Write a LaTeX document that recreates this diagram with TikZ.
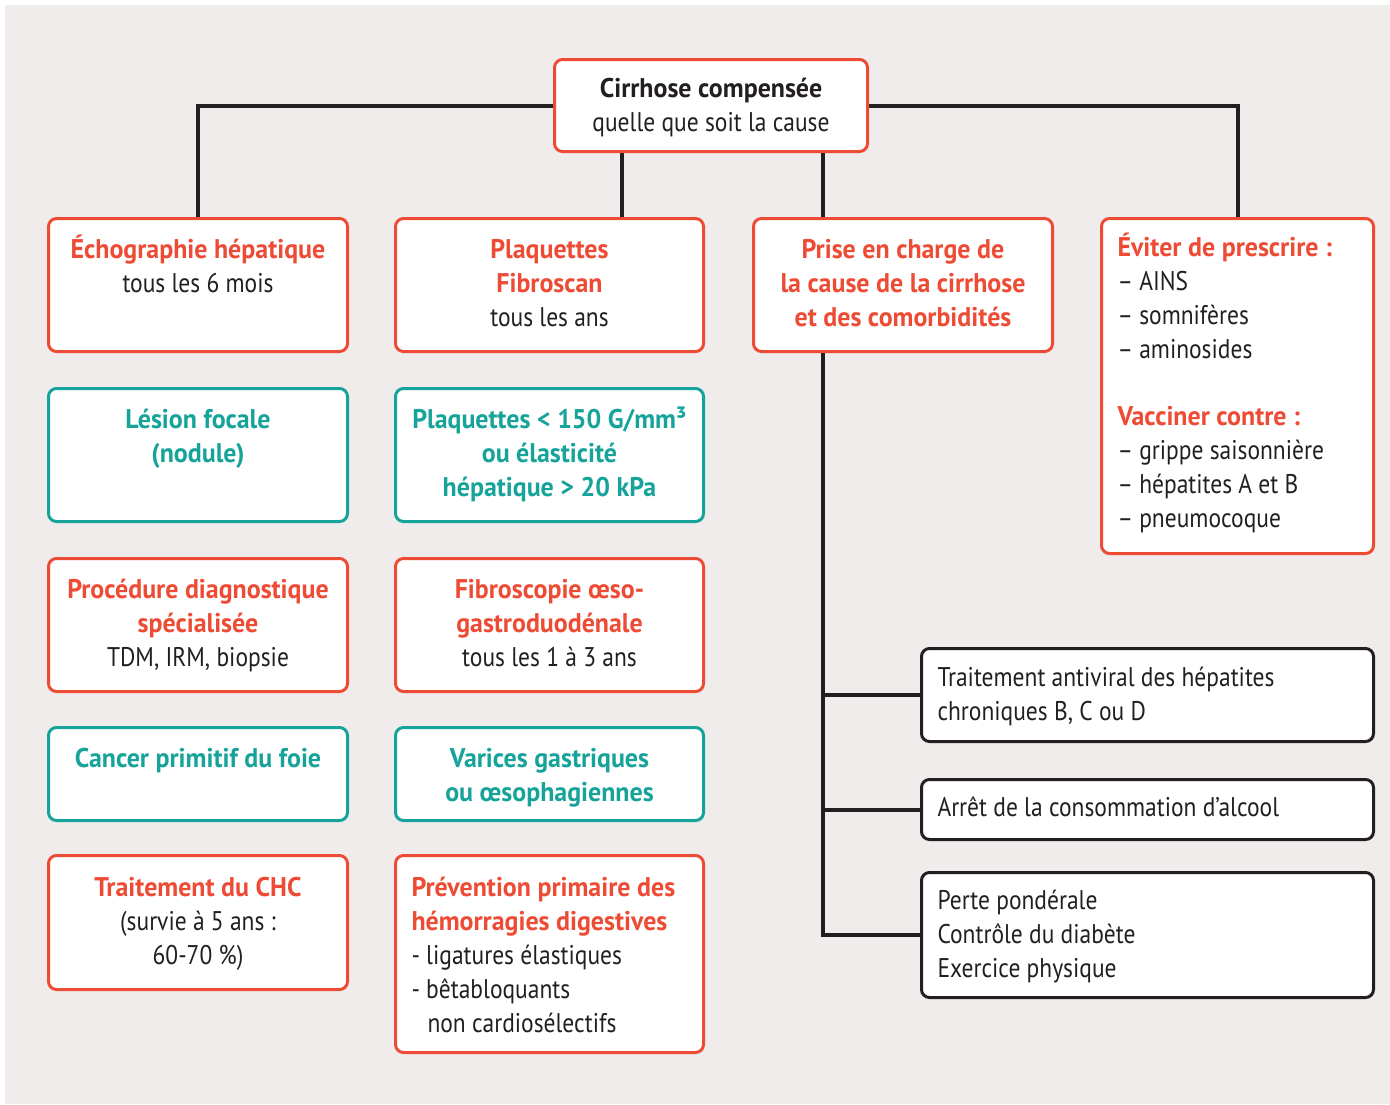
\documentclass[tikz,border=0pt]{standalone}
\usepackage{fontspec}
\setmainfont{PT Sans}[FakeStretch=0.87, BoldFeatures={FakeStretch=0.96}]
\usetikzlibrary{backgrounds}
\definecolor{myred}{HTML}{EE4B35}
\definecolor{myteal}{HTML}{16A39A}
\definecolor{panel}{HTML}{F0ECEC}
\definecolor{ink}{HTML}{231F20}
\newcommand\cbox[4]{\parbox[c][#2pt][t]{#1pt}{\centering\rule{0pt}{#3pt}#4}}
\newcommand\lbox[4]{\parbox[c][#2pt][t]{#1pt}{\raggedright\leftskip=16pt\rule{0pt}{#3pt}#4}}
\newcommand\rt[1]{{\color{myred}\bfseries #1}}
\newcommand\tl[1]{{\color{myteal}\bfseries #1}}
\tikzset{
  box/.style={draw, line width=3pt, rounded corners=8pt, fill=white, inner sep=0pt, anchor=north west, text=ink, font=\fontsize{27}{34}\selectfont},
  rbox/.style={box, draw=myred},
  tbox/.style={box, draw=myteal},
  kbox/.style={box, draw=ink},
  conn/.style={draw=ink, line width=4pt}
}
\begin{document}
\begin{tikzpicture}[x=1pt,y=-1pt]
\useasboundingbox (0,0) rectangle (1390,1104);
\begin{scope}[on background layer]
\fill[white] (0,0) rectangle (1390,1104);
\fill[panel] (5,5) rectangle (1390,1104);
\end{scope}
\node[rbox] (top) at (553,58) {\cbox{313}{92}{38}{\bfseries Cirrhose compensée\\ \mdseries quelle que soit la cause}};
\node[rbox] (echo) at (47,217) {\cbox{299}{133}{40}{\rt{Échographie hépatique}\\ tous les 6 mois}};
\node[rbox] (plaq) at (394,217) {\cbox{308}{133}{40}{\rt{Plaquettes\\ Fibroscan}\\ tous les ans}};
\node[rbox] (prise) at (752,217) {\cbox{299}{133}{40}{\rt{Prise en charge de\\ la cause de la cirrhose\\ et des comorbidités}}};
\node[rbox] (eviter) at (1100,217) {\lbox{272}{335}{38}{\rt{Éviter de prescrire :}\\ – AINS\\ – somnifères\\ – aminosides\\[33pt] \rt{Vacciner contre :}\\ – grippe saisonnière\\ – hépatites A et B\\ – pneumocoque}};
\node[tbox] (lesion) at (47,387) {\cbox{299}{133}{40}{\tl{Lésion focale\\ (nodule)}}};
\node[tbox] (seuil) at (394,387) {\cbox{308}{133}{40}{\tl{Plaquettes < 150 G/mm³\\ ou élasticité\\ hépatique > 20 kPa}}};
\node[rbox] (proc) at (47,557) {\cbox{299}{133}{40}{\rt{Procédure diagnostique\\ spécialisée}\\ TDM, IRM, biopsie}};
\node[rbox] (fibro) at (394,557) {\cbox{308}{133}{40}{\rt{Fibroscopie œso-\\ gastroduodénale}\\ tous les 1 à 3 ans}};
\node[tbox] (cancer) at (47,726) {\cbox{299}{93}{40}{\tl{Cancer primitif du foie}}};
\node[tbox] (varices) at (394,726) {\cbox{308}{93}{40}{\tl{Varices gastriques\\ ou œsophagiennes}}};
\node[rbox] (chc) at (47,854) {\cbox{299}{134}{41}{\rt{Traitement du CHC}\\ (survie à 5 ans :\\ 60-70 \%)}};
\node[rbox] (prev) at (394,854) {\lbox{308}{197}{41}{\rt{Prévention primaire des\\ hémorragies digestives}\\ - ligatures élastiques\\ - bêtabloquants\\ \hspace*{16pt}non cardiosélectifs}};
\node[kbox] (antiv) at (920,647) {\lbox{452}{93}{38}{Traitement antiviral des hépatites\\ chroniques B, C ou D}};
\node[kbox] (arret) at (920,778) {\lbox{452}{60}{37}{Arrêt de la consommation d’alcool}};
\node[kbox] (perte) at (920,871) {\lbox{452}{125}{37}{Perte pondérale\\ Contrôle du diabète\\ Exercice physique}};
\coordinate (c1) at (622,0);
\coordinate (c2) at (823,0);
\begin{scope}[on background layer]
\draw[conn] (top.west) -| (echo.north);
\draw[conn] (top.east) -| (eviter.north);
\draw[conn] (top.south -| c1) -- (plaq.north -| c1);
\draw[conn] (top.south -| c2) -- (prise.north -| c2);
\draw[conn] (prise.south -| c2) |- (perte.west);
\draw[conn] (c2 |- antiv.west) -- (antiv.west);
\draw[conn] (c2 |- arret.west) -- (arret.west);
\end{scope}
\end{tikzpicture}
\end{document}
